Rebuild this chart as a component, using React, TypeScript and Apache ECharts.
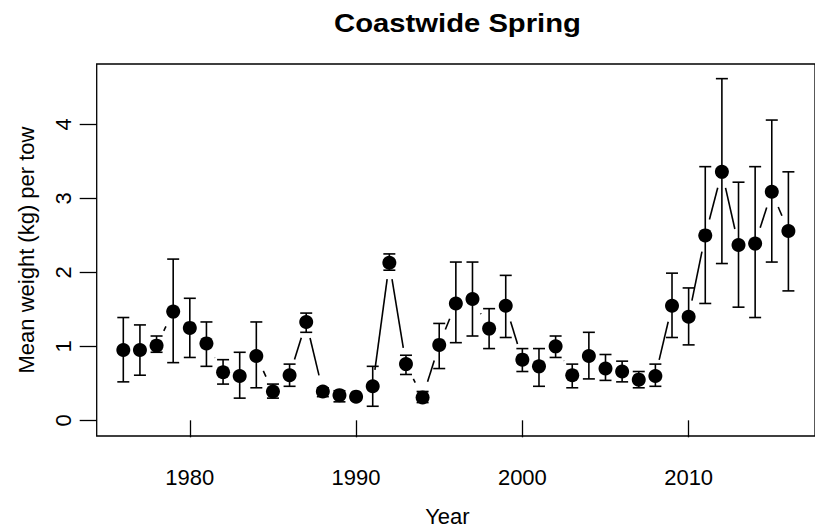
import React, { useEffect, useRef } from "react";
import * as echarts from "echarts";

const YEARS = [1976, 1977, 1978, 1979, 1980, 1981, 1982, 1983, 1984, 1985, 1986, 1987, 1988, 1989, 1990, 1991, 1992, 1993, 1994, 1995, 1996, 1997, 1998, 1999, 2000, 2001, 2002, 2003, 2004, 2005, 2006, 2007, 2008, 2009, 2010, 2011, 2012, 2013, 2014, 2015, 2016];
const MEANS = [0.95, 0.95, 1.01, 1.47, 1.25, 1.04, 0.65, 0.6, 0.87, 0.39, 0.61, 1.33, 0.39, 0.34, 0.32, 0.46, 2.13, 0.76, 0.31, 1.02, 1.58, 1.64, 1.24, 1.55, 0.82, 0.73, 1.0, 0.61, 0.87, 0.7, 0.66, 0.55, 0.6, 1.55, 1.4, 2.5, 3.36, 2.37, 2.39, 3.09, 2.56];
const LOWER = [0.52, 0.61, 0.92, 0.78, 0.85, 0.73, 0.49, 0.3, 0.44, 0.3, 0.46, 1.19, 0.32, 0.25, 0.28, 0.19, 2.03, 0.62, 0.24, 0.7, 1.05, 1.14, 0.97, 1.12, 0.66, 0.46, 0.85, 0.44, 0.56, 0.54, 0.52, 0.44, 0.46, 1.12, 1.02, 1.58, 2.12, 1.53, 1.39, 2.14, 1.75];
const UPPER = [1.39, 1.29, 1.14, 2.18, 1.65, 1.33, 0.82, 0.92, 1.33, 0.49, 0.76, 1.45, 0.44, 0.4, 0.36, 0.73, 2.25, 0.88, 0.39, 1.31, 2.14, 2.14, 1.51, 1.96, 0.97, 0.97, 1.14, 0.76, 1.19, 0.89, 0.8, 0.66, 0.76, 1.99, 1.79, 3.43, 4.62, 3.22, 3.43, 4.06, 3.36];
const X_TICKS = [1980, 1990, 2000, 2010];
const Y_TICKS = [0, 1, 2, 3, 4];

const TITLE = "Coastwide Spring";
const X_NAME = "Year";
const Y_NAME = "Mean weight (kg) per tow";

const FONT = '"Liberation Sans", Arial, Helvetica, sans-serif';
const GAP = 16.5;

export default function App() {
  const ref = useRef<HTMLDivElement>(null);

  useEffect(() => {
    if (!ref.current) return;
    const chart = echarts.init(ref.current, undefined, { renderer: "svg" });

    const points = YEARS.map((y, i) => [y, MEANS[i]]);
    const bars = YEARS.map((y, i) => [y, LOWER[i], UPPER[i]]);
    const segs = YEARS.slice(0, -1).map((y, i) => [y, MEANS[i], YEARS[i + 1], MEANS[i + 1]]);

    const axisText = { color: "#000", fontSize: 22, fontFamily: FONT };

    chart.setOption({
      animation: false,
      backgroundColor: "#fff",
      graphic: [
        {
          type: "text",
          x: 457.5,
          y: 11,
          scaleX: 1.17,
          style: {
            text: TITLE,
            fill: "#000",
            font: `bold 25px ${FONT}`,
            textAlign: "center",
            textVerticalAlign: "top",
          },
        },
      ],
      grid: {
        show: true,
        left: 96.7,
        top: 64,
        right: -1.7,
        bottom: 95.3,
        borderColor: "#000",
        borderWidth: 1.3,
        backgroundColor: "transparent",
      },
      xAxis: {
        type: "value",
        min: 1974.4,
        max: 2017.6,
        splitLine: { show: false },
        axisLine: { show: false },
        axisTick: { show: true, length: 17, customValues: X_TICKS, lineStyle: { color: "#000", width: 1.3 } },
        axisLabel: { ...axisText, customValues: X_TICKS, margin: 30, formatter: (v: number) => String(v) },
        name: X_NAME,
        nameLocation: "middle",
        nameGap: 69,
        nameTextStyle: { ...axisText, padding: [0, 17, 0, 0] },
      },
      yAxis: {
        type: "value",
        min: -0.212,
        max: 4.818,
        splitLine: { show: false },
        axisLine: { show: false },
        axisTick: { show: true, length: 17, customValues: Y_TICKS, lineStyle: { color: "#000", width: 1.3 } },
        axisLabel: { ...axisText, customValues: Y_TICKS, rotate: 90, margin: 22, formatter: (v: number) => String(v) },
        name: Y_NAME,
        nameLocation: "middle",
        nameGap: 59,
        nameTextStyle: { ...axisText },
      },
      series: [
        {
          type: "custom",
          z: 1,
          data: segs,
          encode: { x: [0, 2], y: [1, 3] },
          renderItem: (params: any, api: any) => {
            const p1 = api.coord([api.value(0), api.value(1)]);
            const p2 = api.coord([api.value(2), api.value(3)]);
            const dx = p2[0] - p1[0];
            const dy = p2[1] - p1[1];
            const d = Math.hypot(dx, dy);
            if (d <= 2 * GAP) return { type: "group", children: [] };
            const ux = dx / d;
            const uy = dy / d;
            return {
              type: "line",
              shape: {
                x1: p1[0] + ux * GAP,
                y1: p1[1] + uy * GAP,
                x2: p2[0] - ux * GAP,
                y2: p2[1] - uy * GAP,
              },
              style: { stroke: "#000", lineWidth: 1.6 },
            };
          },
        },
        {
          type: "custom",
          z: 2,
          data: bars,
          encode: { x: 0, y: [1, 2] },
          renderItem: (params: any, api: any) => {
            const x = api.value(0);
            const lo = api.coord([x, api.value(1)]);
            const hi = api.coord([x, api.value(2)]);
            const w = 6;
            const st = { stroke: "#000", lineWidth: 1.6 };
            return {
              type: "group",
              children: [
                { type: "line", shape: { x1: lo[0], y1: lo[1], x2: hi[0], y2: hi[1] }, style: st },
                { type: "line", shape: { x1: lo[0] - w, y1: lo[1], x2: lo[0] + w, y2: lo[1] }, style: st },
                { type: "line", shape: { x1: hi[0] - w, y1: hi[1], x2: hi[0] + w, y2: hi[1] }, style: st },
              ],
            };
          },
        },
        {
          type: "scatter",
          z: 3,
          data: points,
          symbol: "circle",
          symbolSize: 14,
          itemStyle: { color: "#000", opacity: 1 },
        },
      ],
    });

    return () => chart.dispose();
  }, []);

  return (
    <div
      ref={ref}
      style={{ position: "fixed", left: 0, top: 0, width: 815, height: 532, background: "#fff" }}
    />
  );
}
